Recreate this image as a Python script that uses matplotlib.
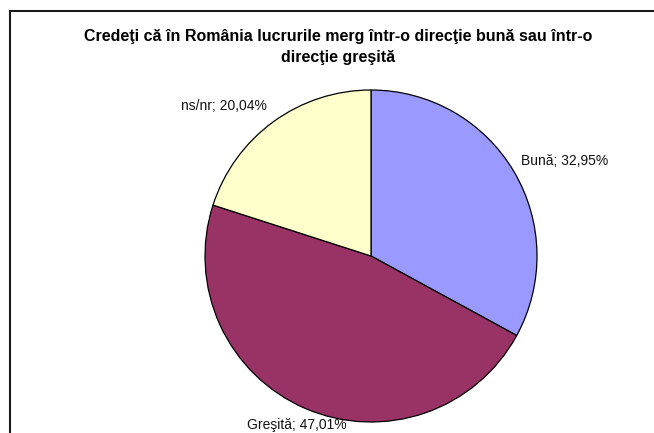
import matplotlib
matplotlib.use("Agg")
import matplotlib.pyplot as plt
from matplotlib.patches import Rectangle
import numpy as np

# Survey answers (percent)
categories = ["Bună", "Greşită", "ns/nr"]
values = [32.95, 47.01, 20.04]
colors = ["#9999FF", "#993366", "#FFFFCC"]
title = "Credeţi că în România lucrurile merg într-o direcţie bună sau într-o\ndirecţie greşită"

plt.rcParams["font.family"] = ["Liberation Sans", "DejaVu Sans"]

W, H = 654, 433
fig = plt.figure(figsize=(W / 100, H / 100), dpi=100)
fig.patch.set_facecolor("white")

# chart frame (runs off the right and bottom edges)
fig.patches.append(Rectangle((10 / W, -0.1), 1.2, 1 - 11 / H + 0.1,
                             transform=fig.transFigure, fill=False,
                             edgecolor="#1a1a1a", linewidth=1.5))

fig.text(338 / W, 1 - 47 / H, title, ha="center", va="center",
         fontsize=11.5, fontweight="bold", linespacing=1.55)

cx, cy, r = 371, 256, 166
ax = fig.add_axes([(cx - r) / W, (H - cy - r) / H, 2 * r / W, 2 * r / H])
wedges, _ = ax.pie(values, colors=colors, startangle=90, counterclock=False,
                   radius=1, wedgeprops=dict(edgecolor="black", linewidth=0.9))
ax.set_xlim(-1, 1)
ax.set_ylim(-1, 1)
ax.axis("off")

# data labels, "Category; value%"
label_pos = {"Bună": (1.169, 0.572), "Greşită": (-0.446, -1.018), "ns/nr": (-0.886, 0.904)}
for name, v in zip(categories, values):
    txt = f"{name}; {v:.2f}%".replace(".", ",")
    x, y = label_pos[name]
    ax.text(x, y, txt, ha="center", va="center", fontsize=10,
            color="#111111", clip_on=False)

fig.savefig("out.png", dpi=100)
